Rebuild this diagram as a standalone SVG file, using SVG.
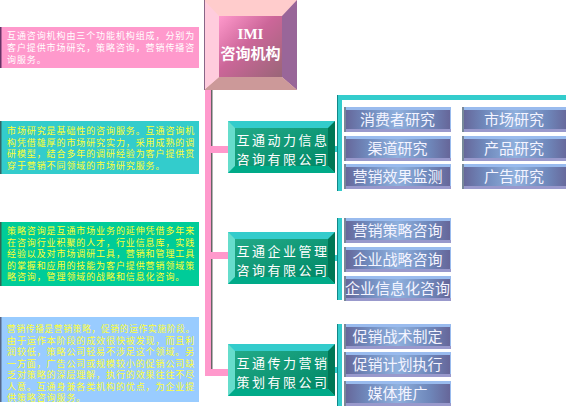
<svg xmlns="http://www.w3.org/2000/svg" width="566" height="406" viewBox="0 0 566 406">
<defs>
<linearGradient id="imiFace" x1="0" y1="0" x2="1" y2="1">
<stop offset="0" stop-color="#FF99CC"/>
<stop offset="0.45" stop-color="#CC6699"/>
<stop offset="1" stop-color="#996677"/>
</linearGradient>
<linearGradient id="coFace" x1="0" y1="0" x2="1" y2="1">
<stop offset="0" stop-color="#22AA88"/>
<stop offset="0.5" stop-color="#119977"/>
<stop offset="1" stop-color="#008866"/>
</linearGradient>
<linearGradient id="btnFace" x1="0" y1="0" x2="1" y2="0">
<stop offset="0" stop-color="#666699"/>
<stop offset="0.2" stop-color="#6F88BB"/>
<stop offset="0.5" stop-color="#8FB0DD"/>
<stop offset="0.8" stop-color="#6F88BB"/>
<stop offset="1" stop-color="#666699"/>
</linearGradient>
<style>
.desc{font-family:"Noto Sans CJK SC",sans-serif;font-size:9px;letter-spacing:0.9px;}
.w{fill:#FFFFFF;}
.y{fill:#FFFF33;}
.co{font-family:"Noto Sans CJK SC",sans-serif;font-size:13px;letter-spacing:2.5px;fill:#FFFFFF;text-anchor:middle;}
.bt{font-family:"Noto Sans CJK SC",sans-serif;font-size:15px;fill:#F4F4FF;text-anchor:middle;}
.teal{fill:#33CCCC;}
.pink{fill:#FF99CC;}
</style>
<g id="btn">
<rect x="0" y="0" width="107" height="25" fill="#99BBEE"/>
<rect x="1" y="3" width="105" height="19" fill="url(#btnFace)"/>
<rect x="0" y="22" width="107" height="3" fill="#9999CC"/>
<rect x="0" y="0" width="2" height="25" fill="#778899"/>
</g>
<g id="co">
<rect x="0" y="0" width="107" height="52" fill="#33CCCC"/>
<polygon points="0,0 7,7 7,45 0,52" fill="#66DDCC"/>
<polygon points="107,0 100,7 100,45 107,52" fill="#007755"/>
<polygon points="0,52 7,45 100,45 107,52" fill="#00AA88"/>
<rect x="7" y="7" width="93" height="38" fill="url(#coFace)"/>
</g>
</defs>

<!-- description boxes -->
<g id="desc1">
<rect x="0" y="27" width="199" height="41" fill="#FF99CC"/>
<rect x="0" y="27" width="1.5" height="41" fill="#663366"/>
<text class="desc w" x="7" y="39">互通咨询机构由三个功能机构组成，分别为</text>
<text class="desc w" x="7" y="51">客户提供市场研究，策略咨询，营销传播咨</text>
<text class="desc w" x="7" y="63">询服务。</text>
</g>
<g id="desc2">
<rect x="0" y="121" width="199" height="53" fill="#33CCCC"/>
<rect x="0" y="121" width="1.5" height="53" fill="#336666"/>
<text class="desc y" x="7" y="134">市场研究是基础性的咨询服务。互通咨询机</text>
<text class="desc y" x="7" y="145.5">构凭借雄厚的市场研究实力，采用成熟的调</text>
<text class="desc y" x="7" y="157">研模型，结合多年的调研经验为客户提供贯</text>
<text class="desc y" x="7" y="168.5">穿于营销不同领域的市场研究服务。</text>
</g>
<g id="desc3">
<rect x="0" y="222" width="199" height="64" fill="#00CC99"/>
<rect x="0" y="222" width="1.5" height="64" fill="#336655"/>
<text class="desc y" x="7" y="234">策略咨询是互通市场业务的延伸凭借多年来</text>
<text class="desc y" x="7" y="245.5">在咨询行业积聚的人才，行业信息库，实践</text>
<text class="desc y" x="7" y="257">经验以及对市场调研工具，营销和管理工具</text>
<text class="desc y" x="7" y="268.5">的掌握和应用的技能为客户提供营销领域策</text>
<text class="desc y" x="7" y="280">略咨询，管理领域的战略和信息化咨询。</text>
</g>
<g id="desc4">
<rect x="0" y="317" width="199" height="85" fill="#99CCFF"/>
<rect x="0" y="317" width="1.5" height="85" fill="#556688"/>
<text class="desc y" x="7" y="332" textLength="188" lengthAdjust="spacingAndGlyphs">营销传播是营销策略，促销的运作实施阶段。</text>
<text class="desc y" x="7" y="343.5">由于运作本阶段的成效很快被发现，而且利</text>
<text class="desc y" x="7" y="355">润较低，策略公司轻易不涉足这个领域。另</text>
<text class="desc y" x="7" y="366.5">一方面，广告公司或规模较小的促销公司缺</text>
<text class="desc y" x="7" y="378">乏对策略的深层理解，执行的效果往往不尽</text>
<text class="desc y" x="7" y="389.5">人意。互通身兼各类机构的优点，为企业提</text>
<text class="desc y" x="7" y="401">供策略咨询服务。</text>
</g>

<!-- connectors -->
<g id="connectors">
<rect class="pink" x="205" y="90" width="6" height="286"/>
<rect x="211" y="90" width="1.5" height="279" fill="#666666"/>
<rect class="pink" x="211" y="146" width="17" height="7"/>
<rect class="pink" x="211" y="252" width="17" height="7"/>
<rect class="pink" x="205" y="369" width="23" height="7"/>
<rect class="teal" x="335" y="146" width="4" height="6"/>
<rect class="teal" x="335" y="255" width="4" height="6"/>
<rect class="teal" x="335" y="367" width="4" height="6"/>
<rect class="teal" x="337" y="95" width="5" height="96"/>
<rect class="teal" x="337" y="95" width="229" height="5"/>
<rect x="337" y="95" width="1" height="96" fill="#118888"/>
<rect class="teal" x="337" y="218" width="5" height="82"/>
<rect x="337" y="218" width="1" height="82" fill="#118888"/>
<rect class="teal" x="337" y="324" width="5" height="82"/>
<rect x="337" y="324" width="1" height="82" fill="#118888"/>
</g>

<!-- root node -->
<g id="imi">
<rect x="204" y="0" width="93" height="90" fill="#FFCCCC"/>
<polygon points="297,0 282,16 282,77 297,90" fill="#996699"/>
<polygon points="204,90 219,77 282,77 297,90" fill="#CC9999"/>
<polygon points="204,0 219,16 219,77 204,90" fill="#FFCCDD"/>
<rect x="219" y="16" width="63" height="61" fill="url(#imiFace)"/>
<rect x="204" y="0" width="1" height="90" fill="#886688"/>
<text x="250.5" y="39" font-family="Liberation Serif, serif" font-size="15" font-weight="bold" fill="#FFFFFF" text-anchor="middle">IMI</text>
<text x="250.5" y="59" font-family="Noto Sans CJK SC, sans-serif" font-size="15" font-weight="bold" fill="#FFFFFF" text-anchor="middle">咨询机构</text>
</g>

<!-- companies -->
<g id="company1">
<use href="#co" x="228" y="121"/>
<text class="co" x="283" y="144.5">互通动力信息</text>
<text class="co" x="283" y="163.5">咨询有限公司</text>
</g>
<g id="company2">
<use href="#co" x="228" y="232"/>
<text class="co" x="283" y="255.5">互通企业管理</text>
<text class="co" x="283" y="274.5">咨询有限公司</text>
</g>
<g id="company3">
<use href="#co" x="228" y="344"/>
<text class="co" x="283" y="367.5">互通传力营销</text>
<text class="co" x="283" y="386.5">策划有限公司</text>
</g>

<!-- group 1 services -->
<g id="s-consumer"><use href="#btn" x="344" y="107"/><text class="bt" x="397.5" y="125">消费者研究</text></g>
<g id="s-channel"><use href="#btn" x="344" y="136"/><text class="bt" x="397.5" y="154">渠道研究</text></g>
<g id="s-effect"><use href="#btn" x="344" y="164"/><text class="bt" x="397.5" y="182">营销效果监测</text></g>
<g id="s-market"><use href="#btn" x="462" y="107"/><text class="bt" x="514" y="125">市场研究</text></g>
<g id="s-product"><use href="#btn" x="462" y="136"/><text class="bt" x="514" y="154">产品研究</text></g>
<g id="s-ad"><use href="#btn" x="462" y="164"/><text class="bt" x="514" y="182">广告研究</text></g>

<!-- group 2 services -->
<g id="s-mktstrategy"><use href="#btn" x="344" y="218"/><text class="bt" x="397.5" y="236">营销策略咨询</text></g>
<g id="s-corpstrategy"><use href="#btn" x="344" y="247"/><text class="bt" x="397.5" y="265">企业战略咨询</text></g>
<g id="s-info"><use href="#btn" x="344" y="276"/><text class="bt" x="397.5" y="294">企业信息化咨询</text></g>

<!-- group 3 services -->
<g id="s-promo"><use href="#btn" x="344" y="324"/><text class="bt" x="397.5" y="342">促销战术制定</text></g>
<g id="s-exec"><use href="#btn" x="344" y="352"/><text class="bt" x="397.5" y="370">促销计划执行</text></g>
<g id="s-media"><use href="#btn" x="344" y="381"/><text class="bt" x="397.5" y="399">媒体推广</text></g>
</svg>
